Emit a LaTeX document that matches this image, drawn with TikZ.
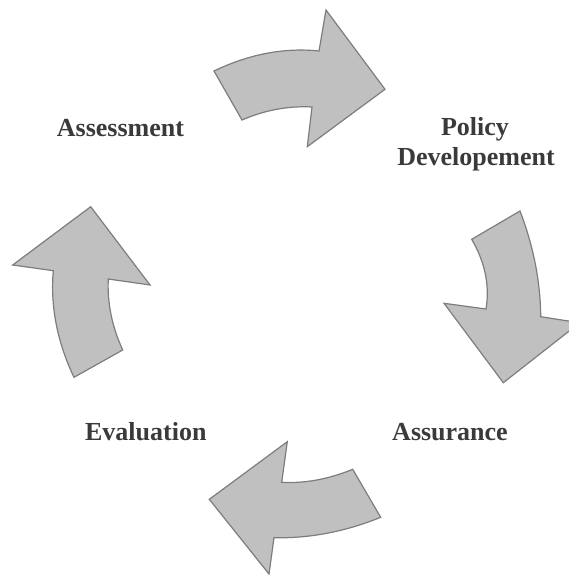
\documentclass[tikz,border=0pt]{standalone}
\usepackage{fontspec}
\setmainfont{Liberation Serif}
\usetikzlibrary{calc}
\definecolor{arrowfill}{RGB}{192,192,192}
\definecolor{arrowline}{RGB}{125,125,125}
\definecolor{labeltext}{RGB}{58,58,58}
\tikzset{
  cyclearrow/.style={fill=arrowfill, draw=arrowline, line width=1.2pt, line join=miter},
  steplabel/.style={anchor=base, inner sep=0pt, text=labeltext, font=\fontsize{26}{30}\selectfont\bfseries},
}
\begin{document}
\begin{tikzpicture}[x=1pt,y=-1pt]
\useasboundingbox (0,0) rectangle (569,575);
\clip (0,0) rectangle (569,575);
% top arrow (Assessment -> Policy)
\coordinate (a1) at (214,71);
\coordinate (a2) at (319,51);
\coordinate (a3) at (312,107);
\coordinate (a4) at (242,120);
\draw[cyclearrow] (a1) .. controls ($(a1)!2/3!(267,45.6)$) and ($(a2)!2/3!(267,45.6)$) .. (a2)
  -- (326,10) -- (385,89.3) -- (307.3,146.7) -- (a3)
  .. controls ($(a3)!2/3!(276.4,105.1)$) and ($(a4)!2/3!(276.4,105.1)$) .. (a4) -- cycle;
% right arrow (Policy -> Assurance)
\coordinate (b1) at (520,211);
\coordinate (b2) at (540.7,316.7);
\coordinate (b3) at (486,309);
\coordinate (b4) at (471.7,239.3);
\draw[cyclearrow] (b1) .. controls ($(b1)!2/3!(540.3,264.2)$) and ($(b2)!2/3!(540.3,264.2)$) .. (b2)
  -- (579.7,322.8) -- (503.3,382.7) -- (444,303.3) -- (b3)
  .. controls ($(b3)!2/3!(491.8,273.9)$) and ($(b4)!2/3!(491.8,273.9)$) .. (b4) -- cycle;
% bottom arrow (Assurance -> Evaluation)
\coordinate (c1) at (352.7,469.3);
\coordinate (c2) at (281.7,482.3);
\coordinate (c3) at (274,537.7);
\coordinate (c4) at (380.7,517.3);
\draw[cyclearrow] (c1) .. controls ($(c1)!2/3!(316.2,484.2)$) and ($(c2)!2/3!(316.2,484.2)$) .. (c2)
  -- (287.3,441.7) -- (209.3,499.3) -- (269,574) -- (c3)
  .. controls ($(c3)!2/3!(327.35,538.9)$) and ($(c4)!2/3!(327.35,538.9)$) .. (c4) -- cycle;
% left arrow (Evaluation -> Assessment)
\coordinate (d1) at (122.7,350);
\coordinate (d2) at (108.3,279);
\coordinate (d3) at (53.3,270.7);
\coordinate (d4) at (74,377.3);
\draw[cyclearrow] (d1) .. controls ($(d1)!2/3!(106.5,314.5)$) and ($(d2)!2/3!(106.5,314.5)$) .. (d2)
  -- (150,285) -- (90.7,206.7) -- (12.7,265) -- (d3)
  .. controls ($(d3)!2/3!(48.7,324)$) and ($(d4)!2/3!(48.7,324)$) .. (d4) -- cycle;
% labels
\node[steplabel] (assessment) at (120.5,136.7) {Assessment};
\node[steplabel] (policy) at (475,135.7) {Policy};
\node[steplabel] (developement) at (476,165) {Developement};
\node[steplabel] (assurance) at (450,440) {Assurance};
\node[steplabel] (evaluation) at (145.8,440) {Evaluation};
\end{tikzpicture}
\end{document}
